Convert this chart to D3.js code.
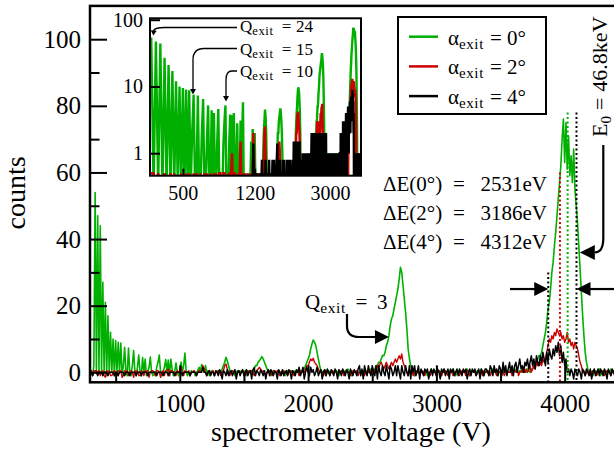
<!DOCTYPE html>
<html>
<head>
<meta charset="utf-8">
<script src="https://cdn.jsdelivr.net/npm/d3@7"></script>
<style>
  body { margin: 0; background: white; }
  text { font-family: "Liberation Serif", "Times New Roman", serif; fill: black; }
</style>
</head>
<body>
<script>
// spectrum sampled every 10 V starting at 300 V
const V_START = 300;
const V_STEP = 10;

// alpha_exit = 0 deg
const COUNTS_0 = [
  0, 0.5, -1, 2, 54, 0, 47, 0, 44, 0,
  27, 0, 21, -1, 17, 0, 12, 0, 10, -1,
  9.5, 0, 9, 0, 8.8, -1, 2, 7.5, 0, -1,
  7.3, 0, -1, 2, 6.5, 0, -1, 1.5, 5.2, 0,
  -1, 4.4, 0, 4, -1, 0, 1.5, 4.6, 0, -1,
  0, -1, 1.5, 3, 5.2, 0, -1, 0, 1.5, 3.8,
  0, 3.7, -1, 4, 1, -1, 0, 2.8, 0, -1,
  0.5, 3.1, 0, 2, 5.8, 0, -1, 0, -1, 0.5,
  0, 0.5, -1, 0, 0.5, 1.5, 0, 2.3, 1.5, 0,
  2, 0, 0.5, -1, 0, 0.5, 0, -1, 0, 0.5,
  0, 0.5, 0, 1, 2, 3, 4.5, 3.5, 2, 0.5,
  0, 0.5, 0, -1, 0, 0.5, 0, 0, 0.5, 0,
  0, 0.5, -1, 0, 0.5, 0, 0.5, 0, 1, 2,
  2, 3, 3.5, 4, 4.7, 4, 3, 2, 1, 0,
  0.5, -1, 0, 0.5, 0, 0, -1, 0.5, 0, 0,
  0.5, 0, -1, 0, 0.5, 0, 0, 0.5, 0, 0,
  0.5, 0, 0.5, 0, 0.5, 0, 0.5, 1, 2, 3,
  4, 5, 7, 8.5, 9.7, 9, 8, 6, 4, 2,
  0.5, 0, 0.5, 0, -1, 0, 0.5, 0, 0, 0.5,
  0, 0, 0.5, 0, -1, 0, 0.5, 0, 0, 0.5,
  0, 1, 0, 0, -1, 0, 0.5, 0, 0.5, 0,
  0, 0.5, 0, 0.5, 0, 0, 0.5, 0, 0.5, 1,
  1, 0, 1, 2, 2, 3, 3, 4, 5, 5,
  6, 8, 9, 11, 14, 16, 17, 19, 21, 23,
  25, 28, 31.5, 30, 26, 22, 18, 13, 7, 4,
  2, 1, 0, -1, 0, 0.5, 0, 0, 0.5, 0,
  0, 0.5, 0, -1, 0, 0, 1, 0, 0, 0.5,
  0, 0, 0.5, 0, -1, 0, 1, 0, 0, 0,
  0.5, 0, 0, 1, 0, -1, 0, 0.5, 0, 0,
  0, 0.5, 0, 0, 1, 0, -1, 0, 0.5, 0,
  0, 0, 0.5, 0, 0, 1, 0, -1, 0, 0.5,
  0, 0.5, 0, 0, 1, 0, 0.5, 0, -1, 0,
  0.5, 0, 0, 1, 0, 0.5, 0, 0, 1, 0,
  0, 0.5, 1, 0, 0, 0.5, 0, 1, 0.5, 0,
  0, 1, 0.5, 0, 1, 1, 2, 2, 3, 4,
  5, 5, 6, 8, 10, 12, 15, 19, 21, 25,
  30, 33, 38, 42, 47, 52, 57, 62, 70, 76,
  63, 75, 61, 71, 59, 65, 57, 67, 55, 50,
  45, 38, 31, 24, 17, 11, 6, 3, 1, 0,
  0.5, 0, -1, 0, 0.5, 0, 0, 1, -1, 0,
  0.5, 0, 0, -1, 0.5, 0, 1, 0, 0, 0.5,
  0
];

// alpha_exit = 2 deg
const COUNTS_2 = [
  0, 0.5, -1, 0.5, 0.5, 0.5, 0, 0.5, -1, 0,
  0.5, -1, -1.5, 0.5, 0, 0.5, -1, -1, 0, 0.5,
  0, -1, 0.5, 0, 0.5, -1.5, -1, 0.5, 0, 0.5,
  -1, 0, 0.5, 0, -1.5, 0.5, 0, 0.5, -1, -1,
  0.5, 0, -1, 0.5, 0, 0.5, -1.5, 0, 0.5, 0.5,
  0, -1, 0.5, 0.5, 0, -1.5, 0, 0.5, -1, 0.5,
  0.5, 1, -1, 0.5, 0.5, 0, 0, -1, 0.5, 0,
  0.5, 1.5, 0, -1, 0.5, 0, 0, 0.5, -1, 0,
  0, 0.5, 0, -1, 0, 0.5, 0, 0.5, 2, 1,
  0, -1, 0, 0.5, 0, 0, 0.5, -1, 0, 0,
  0.5, 0, -1, 0, 0.5, 2, 2.5, 1, 0, -1,
  0, 0.5, 0, 0, -1, 0, 0.5, 0, 0, 0.5,
  0, -1, 0, 0.5, 0, 0, 0.5, 0, -1, 0,
  0.5, 1, 1.5, 1, 0, 0.5, 0, -1, 0, 0.5,
  0, 0, -1, 0.5, 0, 0, 0.5, 0, -1, 0,
  0, 0.5, 0, 0, -1, 0, 0.5, 0, 0, -1,
  0, 0.5, 0, -1, 0, 0.5, 0, 0, 1, 2,
  2, 3, 4, 3.5, 4.2, 3, 2.5, 2, 1, 0,
  0.5, 0, -1, 0, 0.5, 0, 0, -1, 0, 0.5,
  0, 0.5, 0, -1, 0, 0, 0.5, 0, -1, 0,
  0.5, 0, 0, -1, 0, 0.5, 0, 0, 0.5, -1,
  0, 0, 0.5, 0, -1, 0.5, 0, 0, 0.5, 0,
  0, 1, 0, 1, 2, 1, 2.5, 3, 2, 1,
  2, 3, 2, 1, 2, 3, 2, 3, 4, 3,
  4, 5, 4, 5.5, 3, 2, 1, 0, -1, 0,
  0.5, 0, -1, 0, 0, 0.5, 0, -1, 0, 0.5,
  0, -1, 0.5, 0, 0, -1, 0, 0.5, 0, 0,
  -1, 0, 0.5, 0, -1, 0, 0, 0.5, 0, -1,
  0, 0.5, 0, -1, 0, 0, 0.5, 0, -1, 0,
  0.5, 0, 0, -1, 0.5, 0, -1, 0, 0.5, 0,
  0, -1, 0, 0.5, 0, 0, -1, 0.5, 0, 0,
  0.5, 0, -1, 0, 0.5, 0, 0, -1, 0.5, 0,
  0, 0.5, 0, -1, 0, 0.5, 0, 0, 0.5, -1,
  0, 0.5, 0, 1, -1, 0, 0.5, 0, 1.5, 0,
  1, 0, 0.5, 2, 0, 1, 2, 1, 3, 2,
  2, 3, 2, 4, 3, 4, 6, 8, 10, 9,
  11, 10, 12, 11, 13, 12, 11, 12, 10, 11,
  9, 10, 12, 9, 10, 8, 9, 7, 9, 8,
  7, 5, 3, 2, 0, 0.5, -1, 0, 0.5, 0,
  -1, 0, 0.5, 0, 0, -1, 0.5, 0, 0, 0.5,
  0, -1, 0, 0.5, 0, 0, -1, 0, 0.5, 0,
  0
];

// alpha_exit = 4 deg
const COUNTS_4 = [
  0, 0, -1, 0, 0, 0, -1, 0, 0, 0,
  -1, 0, 0, 0, -1, 0, 0, 0, 0, -1,
  0, 0, -1, 0, 0, 0, 0, -1, 0, 0,
  0, -1, 0, 0, 0, 0, -1, 0, 0, 0,
  -1, 0, 0, 0, 0, -1, 0, 0, 0, 0,
  0, 0, -1, 0, 0, 0, 0, -1, 0, 0,
  0, -1, 0, 0, 0, 0, -1, 0, 0, 0,
  0, 0, -1, 0, 0, 0, 0, 0, -1, 0,
  0, 0, 0, -1, 0, 0, 0, 0, 1.4, 0,
  0, -1, 0, 0.5, -1, 0, 0, -1, 0.5, 0,
  -1, 0.8, 0, -2, 0.5, 0, -1, 0.8, -1, 0,
  0.5, -1, 0, 0.8, -2, 0, 0.5, -1, 0, 0.8,
  -1, 0, 0.8, -1, 0, 0.5, -2, 0.8, 1.4, -1,
  0.5, 0, -1, 0.8, 0, -1, 0.5, -2, 0, 0.8,
  -1, 0.8, 0, -1, 0.5, 0, -2, 0.8, 0, -1,
  0.8, -1, 0, 0.5, -1, 0.8, 0, -2, 0.5, 0,
  -1, 0.8, 0, 1.5, -1, 0, 1.5, -2, 0, 1.5,
  0, -1, 1.5, 0, 0.8, -1, 0, 1.5, -1, 0,
  0.8, -2, 0, 0.8, -1, 1, 0, -1, 0.8, 0,
  -1, 1, 0, -2, 0.8, 0, -1, 1, 0, -1,
  0.8, 0, -2, 1, 0, -1, 0.8, 0, -1, 1,
  2, -1, 1, -2, 2, 0, -1, 2, 0, -1,
  2, 0, -1, 2, -2, 2, 0, -1, 2, 0,
  -1, 2, 0, -2, 2, 1, -1, 0, 2, -1,
  2, 0, -2, 2, 0, -1, 2, 0, -1, 2,
  -2, 2, 0, 2, -1, 0, 2, -2, 1, 0,
  -1, 1, 0, 1, -2, 0, 1, -1, 1, 0,
  -1, 1, 0, -2, 1, 0, 1, -1, 0, 1,
  -2, 1, 0, 1, -1, 0, 1, -1, 1, 0,
  -1, 1, 0, 1, -2, 0, 1, -1, 1, 0,
  1, -1, 0, 1, -2, 1, 0, -1, 1, 1,
  0, -1, 2, 1, -1, 2, 0, 1, -1, 2,
  1, -1, 3, 0, 2, -1, 1, 3, 0, 2,
  -1, 2, 3, 0, 2, 4, 1, 2, 0, 3,
  2, 4, 1, 3, 5, 2, 4, 1, 5, 3,
  2, 5, 3, 6, 4, 2, 6, 3, 7, 5,
  4, 7, 5, 8, 6, 9, 5, 8, 3, 6,
  2, 4, 0, 1, -1, 1, 0, -2, 1, 0,
  -1, 1, 0, -2, 1, 0, -1, 1, 0, -1,
  1, -2, 0, 1, -1, 0, 1, -1, 1, 0,
  -1, 1, 0, -2, 1, 0, -1, 1, 0, -1,
  1
];

const ANGLES = ["0°", "2°", "4°"];
const DELTA_E = ["2531eV", "3186eV", "4312eV"];
// dotted lines marking the widths: voltage, top in counts, which series
const EDGE_V = [3872, 3963, 4023, 4092];
const EDGE_TOP = [30, 60, 78, 78];
const EDGE_SERIES = [2, 1, 0, 2];
const Q_INSET = ["24", "15", "10"];
const Q_MAIN = "3";
const E0_LABEL = "46.8keV";

const X_TICKS = [1000, 2000, 3000, 4000];
const X_MINOR = [500, 1500, 2500, 3500];
const Y_TICKS = [0, 20, 40, 60, 80, 100];
const Y_MINOR = [10, 30, 50, 70, 90];
const INSET_X_TICKS = [500, 1200, 3000];
const INSET_Y_TICKS = [1, 10, 100];

const WIDTH = 614;
const HEIGHT = 458;
const COLORS = ["#00b000", "#cc0000", "#000000"];
const LINE_W = [1.6, 1.4, 1.5];

const SVG = d3.select("body").append("svg").attr("width", WIDTH).attr("height", HEIGHT);

const series = [COUNTS_0, COUNTS_2, COUNTS_4].map(arr =>
  arr.map((c, i) => ({ v: V_START + i * V_STEP, c: c })));

// main plot
const x = d3.scaleLinear().domain([300, 4400]).range([90, 616]);
const y = d3.scaleLinear().domain([-3, 110]).range([382.3, 5.9]);

SVG.append("clipPath").attr("id", "clipMain")
  .append("rect")
  .attr("x", 90).attr("y", 5.9).attr("width", 526).attr("height", 376.4);

const linea = d3.line().x(d => x(d.v)).y(d => y(d.c));

SVG.append("g").attr("clip-path", "url(#clipMain)")
  .selectAll("path")
  .data(series)
  .join("path")
  .attr("d", linea)
  .attr("fill", "none")
  .attr("stroke", (d, i) => COLORS[i])
  .attr("stroke-width", (d, i) => LINE_W[i])
  .attr("stroke-linejoin", "round");

// dotted width markers
SVG.append("g").selectAll("line")
  .data(EDGE_V)
  .join("line")
  .attr("x1", d => x(d)).attr("x2", d => x(d))
  .attr("y1", (d, i) => y(EDGE_TOP[i]))
  .attr("y2", y(-3))
  .attr("stroke", (d, i) => COLORS[EDGE_SERIES[i]])
  .attr("stroke-width", 2)
  .attr("stroke-dasharray", "2,2.5");

function styleAxis(g, size) {
  g.select(".domain").remove();
  g.attr("font-size", size);
  g.selectAll(".tick line").attr("stroke-width", 2);
}

SVG.append("g").attr("transform", `translate(0,${y(-3)})`)
  .call(d3.axisBottom(x).tickValues(X_TICKS).tickSize(-17).tickPadding(12).tickFormat(d3.format("d")))
  .call(g => styleAxis(g, 25));
SVG.append("g").attr("transform", `translate(0,${y(-3)})`)
  .call(d3.axisBottom(x).tickValues(X_MINOR).tickSize(-9.5).tickFormat(""))
  .call(g => styleAxis(g, 25));
SVG.append("g").attr("transform", "translate(90,0)")
  .call(d3.axisLeft(y).tickValues(Y_TICKS).tickSize(-17).tickPadding(9).tickFormat(d3.format("d")))
  .call(g => styleAxis(g, 25));
SVG.append("g").attr("transform", "translate(90,0)")
  .call(d3.axisLeft(y).tickValues(Y_MINOR).tickSize(-9.5).tickFormat(""))
  .call(g => styleAxis(g, 25));

SVG.append("rect")
  .attr("x", 90).attr("y", 5.9).attr("width", 526).attr("height", 376.4)
  .attr("fill", "none").attr("stroke", "black").attr("stroke-width", 2.5);

SVG.append("text")
  .attr("transform", "translate(25,193) rotate(-90)")
  .attr("text-anchor", "middle")
  .attr("font-size", 28)
  .text("counts");

SVG.append("text")
  .attr("x", 351).attr("y", 441)
  .attr("text-anchor", "middle")
  .attr("font-size", 28)
  .text("spectrometer voltage (V)");

// inset, log-log
const xi = d3.scaleLog().domain([335, 4380]).range([150, 361]);
const yi = d3.scaleLog().domain([0.46, 105]).range([175.7, 18.3]);

SVG.append("rect")
  .attr("x", 150).attr("y", 18.3).attr("width", 211).attr("height", 157.4)
  .attr("fill", "white");

SVG.append("clipPath").attr("id", "clipInset")
  .append("rect")
  .attr("x", 150).attr("y", 18.3).attr("width", 211).attr("height", 157.4);

const lineaInset = d3.line()
  .x(d => xi(d.v))
  .y(d => yi(Math.max(d.c, 0.3)));

SVG.append("g").attr("clip-path", "url(#clipInset)")
  .selectAll("path")
  .data(series.map(s => s.filter(d => d.v >= 330)))
  .join("path")
  .attr("d", lineaInset)
  .attr("fill", "none")
  .attr("stroke", (d, i) => COLORS[i])
  .attr("stroke-width", 2.4);

SVG.append("g").attr("transform", "translate(0,175.7)")
  .call(d3.axisBottom(xi).tickValues(INSET_X_TICKS).tickSize(-7).tickPadding(10).tickFormat(d3.format("d")))
  .call(g => styleAxis(g, 20));
SVG.append("g").attr("transform", "translate(150,0)")
  .call(d3.axisLeft(yi).tickValues(INSET_Y_TICKS).tickSize(-10).tickPadding(7).tickFormat(d3.format("d")))
  .call(g => styleAxis(g, 20));

SVG.append("rect")
  .attr("x", 150).attr("y", 18.3).attr("width", 211).attr("height", 157.4)
  .attr("fill", "none").attr("stroke", "black").attr("stroke-width", 2);

// subscript helper
function sub(t, txt, size, drop) {
  t.append("tspan")
    .attr("dy", drop)
    .attr("font-size", size)
    .attr("letter-spacing", 0.6)
    .text(txt);
}

// legend
const LEG = SVG.append("g");
LEG.append("rect")
  .attr("x", 398).attr("y", 17).attr("width", 148).attr("height", 97)
  .attr("fill", "white").attr("stroke", "black").attr("stroke-width", 2);
ANGLES.forEach((a, i) => {
  const yy = 36.7 + i * 29.7;
  LEG.append("line")
    .attr("x1", 409).attr("x2", 438).attr("y1", yy).attr("y2", yy)
    .attr("stroke", COLORS[i]).attr("stroke-width", 2.5);
  const t = LEG.append("text").attr("x", 448).attr("y", yy + 8).attr("font-size", 21);
  t.append("tspan").text("α");
  sub(t, "exit", 15, 4);
  LEG.append("text").attr("x", 496).attr("y", yy + 8).attr("font-size", 21)
    .attr("text-anchor", "middle").text("=");
  LEG.append("text").attr("x", 507).attr("y", yy + 8).attr("font-size", 21).text(a);
});

// energy widths
DELTA_E.forEach((e, i) => {
  const yy = 191 + i * 29;
  SVG.append("text").attr("x", 383).attr("y", yy).attr("font-size", 21)
    .text(`ΔE(${ANGLES[i]})`);
  SVG.append("text").attr("x", 459).attr("y", yy).attr("font-size", 21)
    .attr("text-anchor", "middle").text("=");
  SVG.append("text").attr("x", 547).attr("y", yy).attr("font-size", 21)
    .attr("text-anchor", "end").text(e);
});

function arrowHead(tx, ty, dirDeg, len, half) {
  const a = dirDeg * Math.PI / 180;
  const bx = tx - len * Math.cos(a), by = ty - len * Math.sin(a);
  const px = -Math.sin(a) * half, py = Math.cos(a) * half;
  SVG.append("path")
    .attr("d", `M${tx},${ty}L${bx + px},${by + py}L${bx - px},${by - py}Z`)
    .attr("fill", "black");
}

function curve(d, w) {
  SVG.append("path").attr("d", d)
    .attr("fill", "none").attr("stroke", "black").attr("stroke-width", w);
}

function qLabel(x0, yb, size, num, eqX, numX) {
  const t = SVG.append("text").attr("x", x0).attr("y", yb).attr("font-size", size);
  t.append("tspan").text("Q");
  sub(t, "exit", size * 0.74, size * 0.2);
  SVG.append("text").attr("x", eqX).attr("y", yb).attr("font-size", size)
    .attr("text-anchor", "middle").text("=");
  SVG.append("text").attr("x", numX).attr("y", yb).attr("font-size", size).text(num);
}

// Q = 3 label and arrow
qLabel(305, 309, 21, Q_MAIN, 361.5, 377);
const q3x = x(2630), q3y = y(10.6);
curve(`M347,314 L347,326 Q347,${q3y} 359,${q3y} L${q3x - 12},${q3y}`, 2.2);
arrowHead(q3x, q3y, 0, 14, 7);

// inset Q labels and arrows
Q_INSET.forEach((q, i) => qLabel(240, 32 + i * 22.5, 17, q, 286.5, 296));
curve("M237,27.5 L165,27.5 Q154,27.5 153.5,31", 1.3);
arrowHead(153.3, 35.5, 95, 5, 3);
curve("M237,48.5 L204,48.5 Q193,48.5 193,60 L193,89", 1.3);
arrowHead(193, 94.5, 90, 5.5, 3);
curve("M237,71 L232,71 Q226,71 226,80 L226,96", 1.3);
arrowHead(226, 101.5, 90, 5.5, 3);

// E0 label (reads bottom to top) and arrow
const e0 = SVG.append("text")
  .attr("transform", "translate(607,137) rotate(-90)")
  .attr("font-size", 22);
e0.append("tspan").text("E");
e0.append("tspan").attr("dy", 4).attr("font-size", 15).text("0");
e0.append("tspan").attr("dy", -4).attr("dx", 6).text("=");
e0.append("tspan").attr("dx", 6).text(E0_LABEL);
const e0x = x(4118), e0y = y(36);
curve(`M603.3,145 L603.3,238 Q603.3,${e0y} ${e0x + 15},${e0y}`, 2.2);
arrowHead(e0x, e0y, 180, 15, 7.5);

// horizontal arrows pointing at the 4 deg width
const hy = y(25);
curve(`M510,${hy} L${x(EDGE_V[0]) - 13},${hy}`, 2.2);
arrowHead(x(EDGE_V[0]), hy, 0, 14, 7);
curve(`M616,${hy} L${x(EDGE_V[3]) + 13},${hy}`, 2.2);
arrowHead(x(EDGE_V[3]), hy, 180, 14, 7);
</script>
</body>
</html>
